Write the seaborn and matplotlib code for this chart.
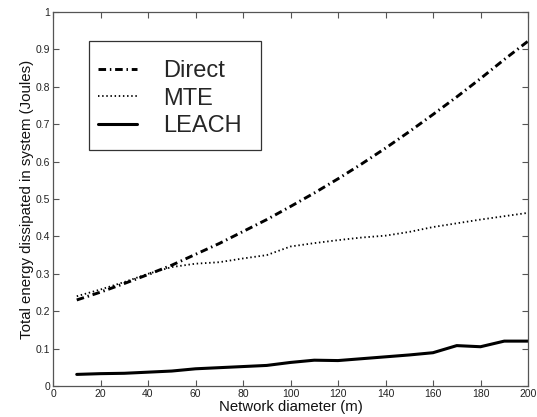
import numpy as np
import pandas as pd
import matplotlib
matplotlib.use("Agg")
import matplotlib.pyplot as plt
from matplotlib.patches import Rectangle
import seaborn as sns

# Network diameter (m)
diameter = [10, 20, 30, 40, 50, 60, 70, 80, 90, 100,
            110, 120, 130, 140, 150, 160, 170, 180, 190, 200]

# Total energy dissipated (J) for each protocol
direct = [0.230, 0.251, 0.274, 0.298, 0.323, 0.352, 0.381, 0.413, 0.445, 0.480,
          0.516, 0.554, 0.594, 0.636, 0.680, 0.726, 0.773, 0.822, 0.873, 0.922]
mte = [0.240, 0.258, 0.278, 0.300, 0.318, 0.327, 0.331, 0.341, 0.350, 0.373,
       0.382, 0.390, 0.397, 0.402, 0.412, 0.425, 0.435, 0.445, 0.454, 0.463]
leach = [0.031, 0.033, 0.034, 0.037, 0.040, 0.046, 0.049, 0.052, 0.055, 0.063,
         0.069, 0.068, 0.073, 0.078, 0.083, 0.089, 0.108, 0.105, 0.120, 0.120]

protocols = ["Direct", "MTE", "LEACH"]
x_ticks = [0, 20, 40, 60, 80, 100, 120, 140, 160, 180, 200]
y_ticks = [0, 0.1, 0.2, 0.3, 0.4, 0.5, 0.6, 0.7, 0.8, 0.9, 1]
y_tick_labels = ["0", "0.1", "0.2", "0.3", "0.4", "0.5", "0.6", "0.7", "0.8", "0.9", "1"]

df = pd.DataFrame({
    "diameter": diameter * 3,
    "energy": direct + mte + leach,
    "protocol": [p for p in protocols for _ in diameter],
})

sns.set_style("white")
plt.rcParams["font.family"] = ["Liberation Sans", "DejaVu Sans"]

fig = plt.figure(figsize=(5.37, 4.17), dpi=100)
ax = fig.add_axes([53 / 537, 1 - 386 / 417, 475 / 537, 374 / 417])

line_styles = {
    "Direct": dict(linestyle=(0, (2.6, 1.3, 0.5, 1.3)), linewidth=2.1),
    "MTE": dict(linestyle=(0, (0.8, 1.5)), linewidth=1.3),
    "LEACH": dict(linestyle="-", linewidth=2.2),
}

for name in protocols:
    sub = df[df["protocol"] == name]
    sns.lineplot(data=sub, x="diameter", y="energy", ax=ax, color="black",
                 label=name, **line_styles[name])

ax.set_xlim(0, 200)
ax.set_ylim(0, 1)
ax.set_xticks(x_ticks)
ax.set_xticklabels([str(t) for t in x_ticks])
ax.set_yticks(y_ticks)
ax.set_yticklabels(y_tick_labels)

for side in ["top", "right", "bottom", "left"]:
    ax.spines[side].set_visible(True)
    ax.spines[side].set_color("#555555")
    ax.spines[side].set_linewidth(0.9)

ax.tick_params(direction="in", length=4, width=0.8, color="#555555",
               labelsize=7.5, labelcolor="#222222", top=True, right=True,
               bottom=True, left=True, pad=2)

ax.set_xlabel("Network diameter (m)", fontsize=10.7, labelpad=1, color="#111111")
ax.set_ylabel("Total energy dissipated in system (Joules)", fontsize=10.8,
              labelpad=1.5, color="#111111")

# legend box drawn as its own rectangle so the padding can differ per side
ax.add_patch(Rectangle((0.0758, 0.631), 0.362, 0.2915, transform=ax.transAxes,
                       facecolor="white", edgecolor="#333333", linewidth=0.9,
                       zorder=4))
leg = ax.legend(loc="upper left", bbox_to_anchor=(0.0947, 0.872),
                fontsize=17, frameon=False,
                handlelength=1.65, handletextpad=1.1, labelspacing=0.245,
                borderpad=0.0, borderaxespad=0.0)
leg.set_zorder(5)

fig.savefig("out.png", dpi=100)
